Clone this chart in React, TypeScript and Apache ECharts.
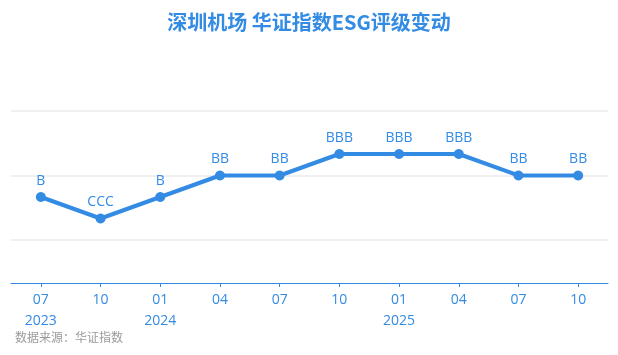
import React, { useEffect, useRef } from "react";
import * as echarts from "echarts";

const categories = ["2023-07", "2023-10", "2024-01", "2024-04", "2024-07", "2024-10", "2025-01", "2025-04", "2025-07", "2025-10"];
const monthLabels = ["07", "10", "01", "04", "07", "10", "01", "04", "07", "10"];
const yearLabels = ["2023", "", "2024", "", "", "", "2025", "", "", ""];
const ratings = ["B", "CCC", "B", "BB", "BB", "BBB", "BBB", "BBB", "BB", "BB"];
const ratingScale = ["D", "C", "CC", "CCC", "B", "BB", "BBB", "A", "AA", "AAA"];
const gridLevels = ["CC", "BB", "AA"];
const values = ratings.map((r) => ratingScale.indexOf(r));

const BLUE = "#338be4";

export default function App() {
  const ref = useRef<HTMLDivElement>(null);
  useEffect(() => {
    const chart = echarts.init(ref.current!, null, { renderer: "svg" });
    chart.setOption({
      animation: false,
      title: {
        text: "深圳机场 华证指数ESG评级变动",
        left: "center",
        top: 6,
        textStyle: { color: BLUE, fontSize: 20, fontWeight: "bold", fontFamily: "Noto Sans CJK SC" },
      },
      graphic: [
        {
          type: "text",
          left: 15,
          top: 330,
          style: { text: "数据来源：华证指数", fill: "#9a9a9a", fontSize: 12, fontFamily: "Noto Sans CJK SC" },
        },
      ],
      grid: { left: 11, right: 10, top: 111, bottom: 72, containLabel: false },
      xAxis: {
        type: "category",
        data: categories,
        boundaryGap: true,
        axisLine: { show: true, onZero: false, lineStyle: { color: BLUE, width: 1 } },
        axisTick: { show: true, alignWithLabel: true, length: 4, lineStyle: { color: BLUE } },
        axisLabel: {
          color: BLUE,
          fontSize: 14,
          lineHeight: 21,
          margin: 5,
          fontFamily: "Open Sans",
          formatter: (_v: string, i: number) => (yearLabels[i] ? monthLabels[i] + "\n" + yearLabels[i] : monthLabels[i]),
        },
      },
      yAxis: {
        type: "value",
        min: 0,
        max: ratingScale.indexOf("AA"),
        axisLine: { show: false },
        axisTick: { show: false },
        axisLabel: { show: false },
        splitLine: { show: false },
      },
      series: [
        {
          type: "line",
          data: values,
          symbol: "circle",
          symbolSize: 10,
          lineStyle: { color: BLUE, width: 4 },
          itemStyle: { color: BLUE },
          z: 3,
          label: {
            show: true,
            position: "top",
            distance: 6,
            color: BLUE,
            fontSize: 14,
            fontFamily: "Open Sans",
            formatter: (p: any) => ratings[p.dataIndex],
          },
          markLine: {
            silent: true,
            symbol: ["none", "none"],
            label: { show: false },
            lineStyle: { type: "solid", color: "#f0f0f0", width: 2 },
            z: 1,
            data: gridLevels.map((g) => ({ yAxis: ratingScale.indexOf(g) })),
          },
        },
      ],
    });
    return () => chart.dispose();
  }, []);
  return <div ref={ref} style={{ position: "fixed", left: 0, top: 0, width: 618, height: 355 }} />;
}
